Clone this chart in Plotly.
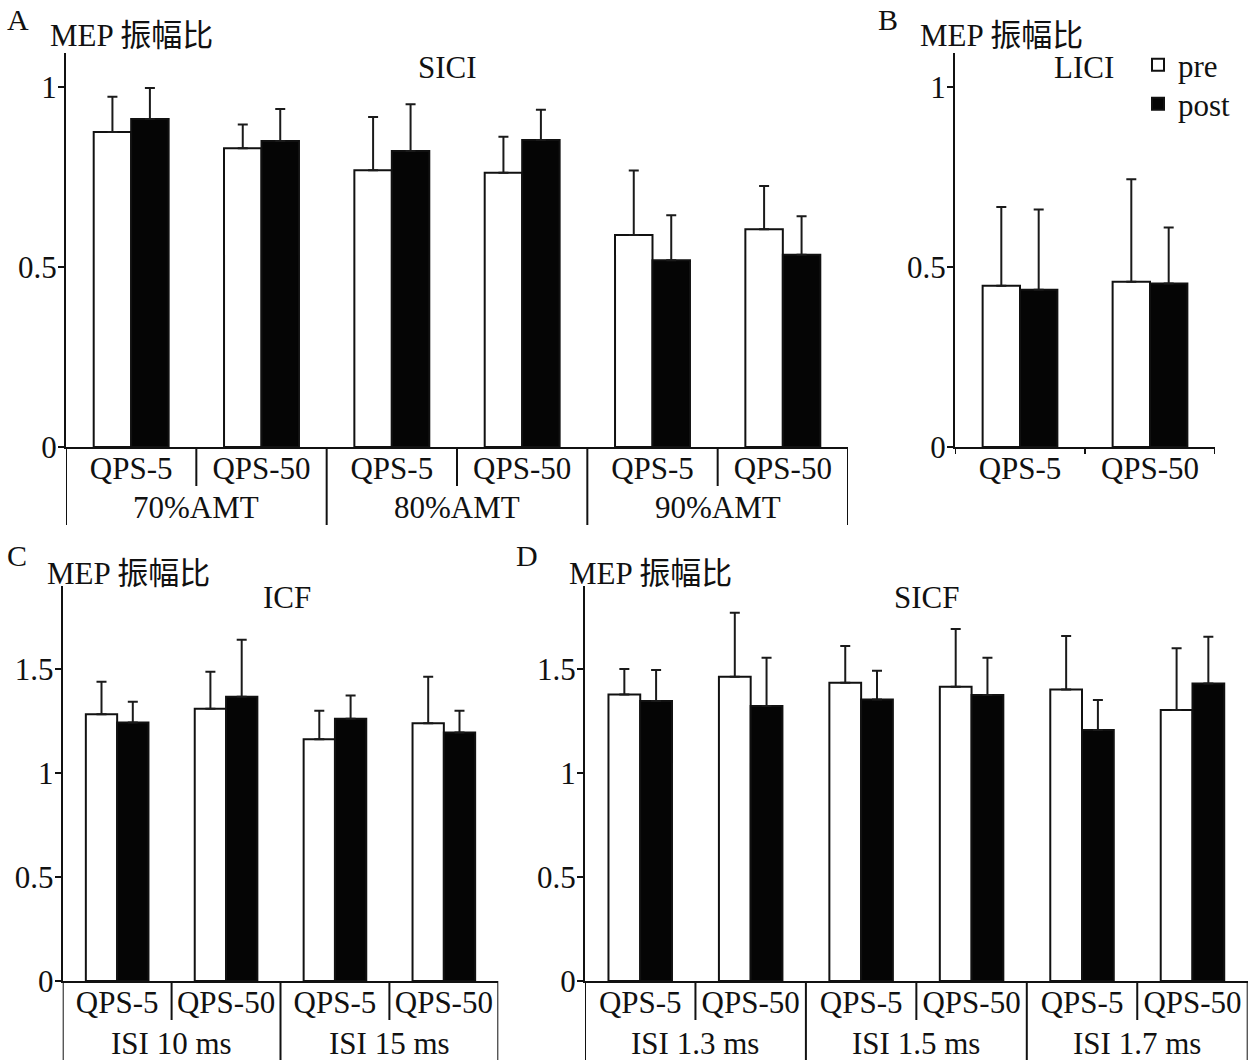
import plotly.graph_objects as go

# ---- data -------------------------------------------------------------
sici_cats = ["QPS-5", "QPS-50", "QPS-5", "QPS-50", "QPS-5", "QPS-50"]
sici_groups = ["70%AMT", "80%AMT", "90%AMT"]
sici_pre = [0.875, 0.830, 0.769, 0.762, 0.589, 0.605]
sici_pre_err = [0.098, 0.066, 0.148, 0.100, 0.179, 0.120]
sici_post = [0.911, 0.850, 0.822, 0.853, 0.519, 0.534]
sici_post_err = [0.086, 0.089, 0.130, 0.084, 0.125, 0.107]

lici_cats = ["QPS-5", "QPS-50"]
lici_pre = [0.448, 0.459]
lici_pre_err = [0.219, 0.285]
lici_post = [0.437, 0.454]
lici_post_err = [0.223, 0.156]

icf_cats = ["QPS-5", "QPS-50", "QPS-5", "QPS-50"]
icf_groups = ["ISI 10 ms", "ISI 15 ms"]
icf_pre = [1.285, 1.311, 1.164, 1.241]
icf_pre_err = [0.156, 0.178, 0.137, 0.224]
icf_post = [1.245, 1.369, 1.263, 1.197]
icf_post_err = [0.100, 0.274, 0.112, 0.104]

sicf_cats = ["QPS-5", "QPS-50", "QPS-5", "QPS-50", "QPS-5", "QPS-50"]
sicf_groups = ["ISI 1.3 ms", "ISI 1.5 ms", "ISI 1.7 ms"]
sicf_pre = [1.380, 1.465, 1.436, 1.417, 1.404, 1.305]
sicf_pre_err = [0.122, 0.308, 0.177, 0.278, 0.257, 0.297]
sicf_post = [1.348, 1.324, 1.356, 1.377, 1.208, 1.433]
sicf_post_err = [0.149, 0.233, 0.138, 0.180, 0.145, 0.225]

y_label = "MEP 振幅比"

# ---- style ------------------------------------------------------------
W, H = 1256, 1060
FONT = "Liberation Serif, Times New Roman, Noto Sans CJK SC, serif"
FS = 31
INK = "#111111"


def px_x(p):
    return p / W


def px_y(p):
    return 1 - p / H


fig = go.Figure()


def add_pair(ax, cats, pre, pre_err, post, post_err, legend=False):
    xs = list(range(len(cats)))
    xa, ya = ("x", "y") if ax == 1 else (f"x{ax}", f"y{ax}")
    for name, vals, errs, fill, lg in (("pre", pre, pre_err, "white", "legend"),
                                       ("post", post, post_err, "#050505", "legend2")):
        fig.add_trace(go.Bar(
            x=xs, y=vals, name=name, xaxis=xa, yaxis=ya,
            marker=dict(color=fill, line=dict(color=INK, width=2)),
            error_y=dict(type="data", array=errs,
                         arrayminus=[0] * len(errs), symmetric=False,
                         color="#1a1a1a", thickness=2, width=5),
            showlegend=legend, legend=lg, offsetgroup=name,
        ))


add_pair(1, sici_cats, sici_pre, sici_pre_err, sici_post, sici_post_err)
add_pair(2, lici_cats, lici_pre, lici_pre_err, lici_post, lici_post_err, legend=True)
add_pair(3, icf_cats, icf_pre, icf_pre_err, icf_post, icf_post_err)
add_pair(4, sicf_cats, sicf_pre, sicf_pre_err, sicf_post, sicf_post_err)

# panel geometry (pixel positions of axes)
panels = {
    1: dict(x0=66, x1=848, y0=447, ytop=52.8, ymax=1.095,
            yt=[0, 0.5, 1], cats=sici_cats),
    2: dict(x0=955, x1=1215, y0=447, ytop=52.8, ymax=1.095,
            yt=[0, 0.5, 1], cats=lici_cats),
    3: dict(x0=62.7, x1=498.3, y0=981, ytop=586.4, ymax=1.9,
            yt=[0, 0.5, 1, 1.5], cats=icf_cats),
    4: dict(x0=585, x1=1247.7, y0=981, ytop=586.4, ymax=1.9,
            yt=[0, 0.5, 1, 1.5], cats=sicf_cats),
}

axis_font = dict(family=FONT, size=FS, color=INK)
for k, p in panels.items():
    n = len(p["cats"])
    sx = "" if k == 1 else str(k)
    fig.layout["xaxis" + sx] = dict(
        domain=[px_x(p["x0"]), px_x(p["x1"])], range=[-0.5, n - 0.5],
        anchor="y" + sx, showline=True, linecolor=INK, linewidth=2,
        tickvals=list(range(n)), ticktext=p["cats"], ticks="",
        tickangle=0, tickfont=axis_font, ticklabelstandoff=-7,
        showgrid=False, zeroline=False, fixedrange=True, automargin=False,
    )
    fig.layout["yaxis" + sx] = dict(
        domain=[px_y(p["y0"]), px_y(p["ytop"])], range=[0, p["ymax"]],
        anchor="x" + sx, showline=True, linecolor=INK, linewidth=2,
        tickvals=p["yt"], ticktext=[f"{v:g}" for v in p["yt"]],
        ticks="outside", ticklen=6, tickwidth=2, tickcolor=INK,
        tickfont=axis_font, ticklabelstandoff=-5,
        showgrid=False, zeroline=False, fixedrange=True, automargin=False,
    )

shapes = []
annotations = []


def divider(ax, xval, y_top_px, y_bot_px):
    xa = "x" if ax == 1 else f"x{ax}"
    shapes.append(dict(type="line", xref=xa, yref="paper",
                       x0=xval, x1=xval, y0=px_y(y_top_px), y1=px_y(y_bot_px),
                       line=dict(color=INK, width=2)))


def group_labels(ax, groups, y_axis_px, small_len, big_len, label_off):
    xa = "x" if ax == 1 else f"x{ax}"
    n = len(groups) * 2
    for b in range(n + 1):
        xv = b - 0.5
        if b % 2 == 0:
            divider(ax, xv, y_axis_px, y_axis_px + big_len)
        else:
            divider(ax, xv, y_axis_px, y_axis_px + small_len)
    for g, name in enumerate(groups):
        annotations.append(dict(
            xref=xa, yref="paper", x=2 * g + 0.5, y=px_y(y_axis_px + label_off),
            text=name, showarrow=False, xanchor="center", yanchor="middle",
            font=axis_font))


group_labels(1, sici_groups, 447, 39, 78, 60)
group_labels(3, icf_groups, 981, 39, 79, 62)
group_labels(4, sicf_groups, 981, 39, 79, 62)
# short boundary ticks on the LICI category axis
for xv in (-0.5, 0.5, 1.5):
    divider(2, xv, 447, 454)


def text(xp, yp, s, size=FS, xanchor="left"):
    annotations.append(dict(
        xref="paper", yref="paper", x=px_x(xp), y=px_y(yp), text=s,
        showarrow=False, xanchor=xanchor, yanchor="middle",
        font=dict(family=FONT, size=size, color=INK)))


# panel letters
text(5, 19, "A", size=30)
text(876, 19, "B", size=30)
text(5, 555, "C", size=30)
text(514, 555, "D", size=30)
# y-axis titles
text(48, 35, y_label)
text(918, 35, y_label)
text(45, 573, y_label)
text(567, 573, y_label)
# panel titles
text(447, 67, "SICI", xanchor="center")
text(1084, 67, "LICI", xanchor="center")
text(287, 597, "ICF", xanchor="center")
text(926, 597, "SICF", xanchor="center")

legend_style = dict(xanchor="left", yanchor="middle", bgcolor="rgba(0,0,0,0)",
                    font=dict(family=FONT, size=FS, color=INK), itemwidth=30)

fig.update_layout(
    width=W, height=H, margin=dict(l=0, r=0, t=0, b=0),
    paper_bgcolor="white", plot_bgcolor="white",
    barmode="group", bargap=0.425, bargroupgap=0,
    font=dict(family=FONT, size=FS, color=INK),
    shapes=shapes, annotations=annotations,
    legend=dict(x=px_x(1138), y=px_y(65), **legend_style),
    legend2=dict(x=px_x(1138), y=px_y(104), **legend_style),
)

fig.write_html("out.html")
